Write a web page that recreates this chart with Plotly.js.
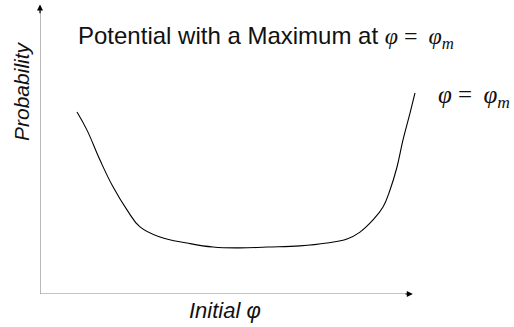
<!DOCTYPE html>
<html>
<head>
<meta charset="utf-8">
<script src="https://cdn.plot.ly/plotly-3.0.1.min.js"></script>
<style>
  html, body { margin: 0; padding: 0; background: #fff; }
  #chart { width: 514px; height: 327px; }
</style>
</head>
<body>
<div id="chart"></div>
<script>
// Initial field value (arbitrary units) and the resulting probability
const initialPhi = [9.25, 11.75, 15, 18.25, 21.75, 25, 30, 36.75, 43.25, 50, 56.75,
                    65, 71.75, 76.75, 80, 83.25, 85.75, 87.5, 89.25, 90.75, 92.5, 93.75];
const probability = [63.2, 56.9, 46.5, 37.2, 29.2, 23.3, 19.8, 17.7, 16.3, 16.0, 16.3,
                     16.7, 17.7, 19.1, 21.5, 25.7, 30.2, 36.1, 44.1, 53.5, 62.8, 69.8];

const titleText = 'Potential with a Maximum at ';
const mathTitle = '<span style="font-family:\'Liberation Serif\'; font-size:24px"><i>φ</i> = \u2009<i>φ<sub>m</sub></i></span>';
const mathLabel = '<span style="font-family:\'Liberation Serif\'; font-size:25px"><i>φ</i> = \u2009<i>φ<sub>m</sub></i></span>';
const xLabel = '<i>Initial φ</i>';
const yLabel = '<i>Probability</i>';

const sans = 'Liberation Sans, Arial, sans-serif';

const trace = {
  x: initialPhi,
  y: probability,
  type: 'scatter',
  mode: 'lines',
  line: { color: '#000', width: 1.1, shape: 'spline', smoothing: 1.2 },
  cliponaxis: false,
  hoverinfo: 'skip'
};

const axisColor = '#8a8a8a';

const layout = {
  width: 514,
  height: 327,
  margin: { l: 40, r: 74, t: 6, b: 33 },
  paper_bgcolor: '#fff',
  plot_bgcolor: '#fff',
  showlegend: false,
  xaxis: { range: [0, 100], visible: false, fixedrange: true },
  yaxis: { range: [0, 100], visible: false, fixedrange: true },
  title: {
    text: titleText + mathTitle,
    font: { family: sans, size: 24, color: '#111' },
    x: 0.095, xref: 'paper', xanchor: 'left',
    y: 1 - 36 / 327, yref: 'container', yanchor: 'middle'
  },
  shapes: [
    // axis lines
    { type: 'line', xref: 'x', yref: 'y', x0: 0, y0: 0, x1: 92.5, y1: 0,
      line: { color: axisColor, width: 1.2 } },
    { type: 'line', xref: 'x', yref: 'y', x0: 0, y0: 0, x1: 0, y1: 99,
      line: { color: axisColor, width: 1.2 } }
  ],
  annotations: [
    // arrowheads on the axes
    { x: 93.2, y: 0, ax: 91, ay: 0, xref: 'x', yref: 'y', axref: 'x', ayref: 'y',
      showarrow: true, arrowhead: 2, arrowsize: 1, arrowwidth: 1.2, arrowcolor: '#000', text: '' },
    { x: 0, y: 100.5, ax: 0, ay: 97, xref: 'x', yref: 'y', axref: 'x', ayref: 'y',
      showarrow: true, arrowhead: 2, arrowsize: 1, arrowwidth: 1.2, arrowcolor: '#000', text: '' },
    // axis labels
    { text: xLabel, xref: 'paper', yref: 'paper', x: (225 - 40) / 400, y: -(310 - 294) / 288,
      xanchor: 'center', yanchor: 'middle', showarrow: false,
      font: { family: sans, size: 22, color: '#111' } },
    { text: yLabel, xref: 'paper', yref: 'paper', x: -(40 - 22) / 400, y: (294 - 91) / 288,
      xanchor: 'center', yanchor: 'middle', showarrow: false, textangle: -90,
      font: { family: sans, size: 21, color: '#111' } },
    // label at the right-hand end of the curve
    { text: mathLabel, xref: 'paper', yref: 'paper', x: (436 - 40) / 400, y: (294 - 96) / 288,
      xanchor: 'left', yanchor: 'middle', showarrow: false,
      font: { family: sans, size: 21, color: '#111' } }
  ]
};

Plotly.newPlot('chart', [trace], layout, { displayModeBar: false, staticPlot: true });
</script>
</body>
</html>
